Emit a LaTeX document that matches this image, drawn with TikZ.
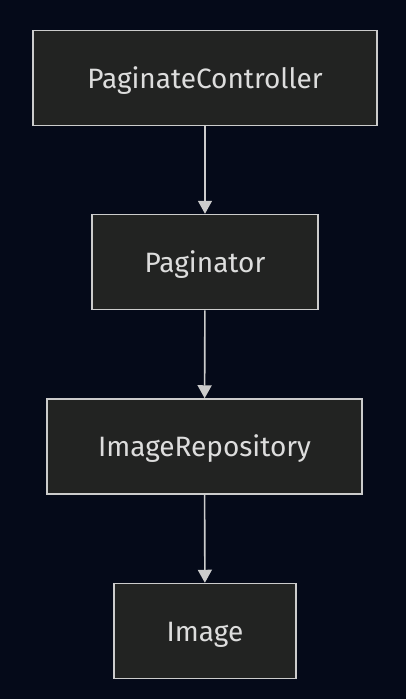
\documentclass[tikz,border=0pt]{standalone}
\usepackage{fontspec}
\setmainfont{Fira Sans}
\usetikzlibrary{positioning, arrows.meta}
\definecolor{night}{HTML}{050A19}
\definecolor{boxfill}{HTML}{222322}
\definecolor{edge}{HTML}{CCCCCC}
\definecolor{label}{HTML}{DDDDDD}

\begin{document}
\begin{tikzpicture}[
  x=1pt, y=1pt,
  cls/.style={draw=edge, fill=boxfill, line width=1.5pt, minimum height=95pt, text=label, font=\fontsize{28}{32}\selectfont, inner sep=0pt, text height=20pt, text depth=0pt},
  dep/.style={draw=edge, line width=1.6pt, -{Triangle[length=13pt, width=14pt]}}
]
  % Background
  \fill[night] (0,0) rectangle (406,-699);
  \useasboundingbox (0,0) rectangle (406,-699);

  % Classes
  \node[cls, minimum width=344pt] (pc)   at (205, -78)    {PaginateController};
  \node[cls, minimum width=226pt] (pag)  at (205, -262)   {Paginator};
  \node[cls, minimum width=315pt] (repo) at (204.5, -446.5) {ImageRepository};
  \node[cls, minimum width=182pt] (img)  at (205, -631)   {Image};

  % Dependencies
  \draw[dep] (pc) -- (pag);
  \draw[dep] (pag) -- (repo);
  \draw[dep] (repo) -- (img);
\end{tikzpicture}
\end{document}
